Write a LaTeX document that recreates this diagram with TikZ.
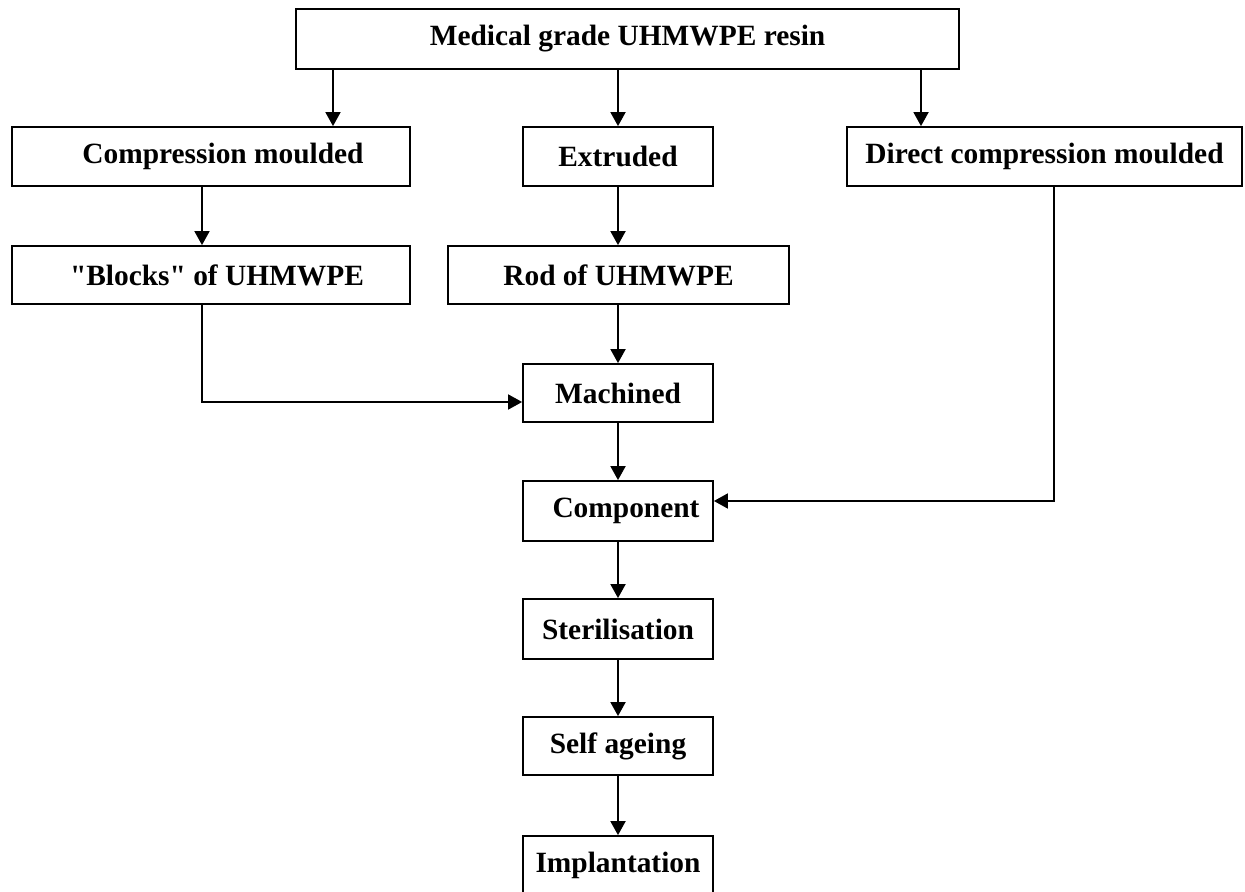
\documentclass[tikz,border=0pt]{standalone}
\usepackage{fontspec}
\newfontfamily\boxfont{Liberation Serif}
\usetikzlibrary{arrows.meta}

\begin{document}
\begin{tikzpicture}[x=0.5pt,y=-0.5pt,line width=0.9pt,
		arr/.style={-{Triangle[length=7pt,width=7.5pt]}}]
		\tikzstyle{every node}=[align=center,draw=black,line width=0.9pt,inner sep=0pt,font=\boxfont\bfseries\fontsize{14.7}{17}\selectfont];
		\useasboundingbox (0,0) rectangle (1245,892);
		% top row
		\node[minimum width=331.5pt,minimum height=30pt] (resin) at (627.5,39) {Medical grade UHMWPE resin};
		\node[minimum width=199pt,minimum height=29.5pt] (cmould) at (211,156.5) {\hspace{12pt}Compression moulded};
		\node[minimum width=95pt,minimum height=29.5pt] (extruded) at (618,156.5) {Extruded};
		\node[minimum width=197.5pt,minimum height=29.5pt] (dcmould) at (1044.5,156.5) {Direct compression moulded};
		% stock
		\node[minimum width=199pt,minimum height=29pt] (blocks) at (211,275) {\hspace{6pt}"Blocks" of UHMWPE};
		\node[minimum width=170.5pt,minimum height=29pt] (rod) at (618.5,275) {Rod of UHMWPE};
		% main line
		\node[minimum width=95pt,minimum height=29pt] (machined) at (618,393) {Machined};
		\node[minimum width=95pt,minimum height=30pt] (component) at (618,511) {\hspace{8pt}Component};
		\node[minimum width=95pt,minimum height=30pt] (steril) at (618,629) {Sterilisation};
		\node[minimum width=95pt,minimum height=29pt] (ageing) at (618,746) {Self ageing};
		\node[minimum width=95pt,minimum height=29pt] (implant) at (618,865) {Implantation};
		% connectors
		\draw[arr] (resin.south -| 333,0) -- (cmould.north -| 333,0);
		\draw[arr] (resin.south -| extruded.north) -- (extruded.north);
		\draw[arr] (resin.south -| 921,0) -- (dcmould.north -| 921,0);
		\draw[arr] (cmould.south -| 202,0) -- (blocks.north -| 202,0);
		\draw[arr] (extruded.south) -- (rod.north -| extruded.south);
		\draw[arr] (rod.south -| machined.north) -- (machined.north);
		\draw[arr] (blocks.south -| 202,0) |- ([yshift=-4.5pt]machined.west);
		\draw[arr] (dcmould.south -| 1054,0) |- ([yshift=5pt]component.east);
		\draw[arr] (machined) -- (component);
		\draw[arr] (component) -- (steril);
		\draw[arr] (steril) -- (ageing);
		\draw[arr] (ageing) -- (implant);
\end{tikzpicture}
\end{document}
